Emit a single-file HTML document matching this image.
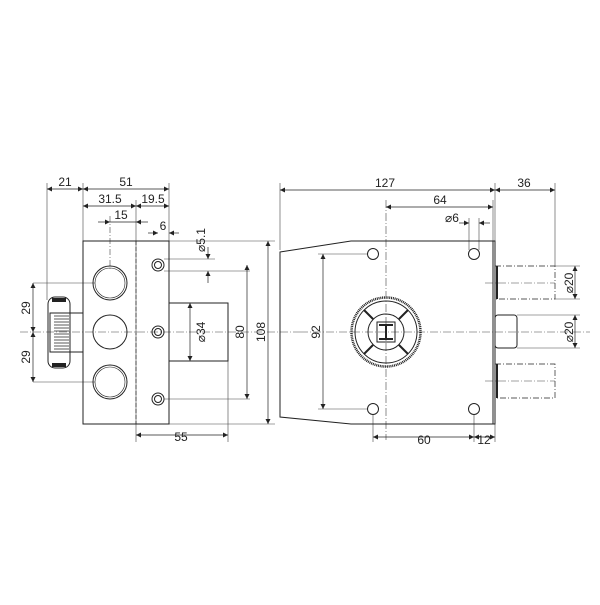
<!DOCTYPE html>
<html><head><style>body{margin:0;background:#fff}</style></head><body>
<svg width="600" height="600" viewBox="0 0 600 600" xmlns="http://www.w3.org/2000/svg" font-family="Liberation Sans, sans-serif" font-size="12" fill="none" stroke="#222">
<defs>
<marker id="a" viewBox="0 0 10 10" refX="10" refY="5" markerUnits="userSpaceOnUse" markerWidth="8" markerHeight="5" orient="auto-start-reverse"><path d="M0,0L10,5L0,10z" fill="#222" stroke="none"/></marker>
</defs>
<g stroke-width="0.6" stroke="#444">
<line x1="47" y1="183" x2="47" y2="300"/><line x1="83" y1="183" x2="83" y2="241"/><line x1="169" y1="183" x2="169" y2="241"/>
<line x1="136" y1="200" x2="136" y2="442"/><line x1="110" y1="216" x2="110" y2="270" stroke-dasharray="6 2 1 2"/>
<line x1="228" y1="361" x2="228" y2="442"/>
<line x1="33" y1="283" x2="95" y2="283"/><line x1="33" y1="382" x2="95" y2="382"/>
<line x1="164" y1="259" x2="215" y2="259"/><line x1="164" y1="271" x2="250" y2="271"/><line x1="164" y1="399" x2="250" y2="399"/>
<line x1="169" y1="241" x2="275" y2="241"/><line x1="169" y1="424" x2="275" y2="424"/>
<line x1="20" y1="332" x2="300" y2="332" stroke-dasharray="8 2 1 2"/>
<line x1="280" y1="183" x2="280" y2="250"/><line x1="495" y1="183" x2="495" y2="241"/><line x1="555" y1="183" x2="555" y2="266"/>
<line x1="386" y1="200" x2="386" y2="440" stroke-dasharray="8 2 1 2"/>
<line x1="493" y1="200" x2="493" y2="241"/>
<line x1="469" y1="218" x2="469" y2="250"/><line x1="479" y1="218" x2="479" y2="250"/>
<line x1="318" y1="254" x2="368" y2="254"/><line x1="318" y1="409" x2="368" y2="409"/>
<line x1="373" y1="414" x2="373" y2="442"/><line x1="474" y1="414" x2="474" y2="442"/><line x1="495" y1="424" x2="495" y2="442"/>
<line x1="555" y1="266" x2="580" y2="266"/><line x1="555" y1="299" x2="580" y2="299"/><line x1="517" y1="315" x2="580" y2="315"/><line x1="517" y1="348" x2="580" y2="348"/>
<line x1="300" y1="332" x2="590" y2="332" stroke-dasharray="8 2 1 2"/>
<line x1="485" y1="283" x2="555" y2="283" stroke-dasharray="8 2 1 2"/><line x1="485" y1="381" x2="555" y2="381" stroke-dasharray="8 2 1 2"/>
</g>
<g stroke-width="0.7" marker-start="url(#a)" marker-end="url(#a)">
<line x1="47" y1="189" x2="83" y2="189"/><line x1="83" y1="189" x2="169" y2="189"/>
<line x1="83" y1="206" x2="136" y2="206"/><line x1="136" y1="206" x2="169" y2="206"/>
<line x1="33" y1="283" x2="33" y2="332"/><line x1="33" y1="332" x2="33" y2="382"/>
<line x1="190" y1="303" x2="190" y2="361"/>
<line x1="247" y1="265" x2="247" y2="399"/><line x1="268" y1="241" x2="268" y2="424"/>
<line x1="136" y1="435" x2="228" y2="435"/>
<line x1="280" y1="190" x2="495" y2="190"/><line x1="495" y1="190" x2="555" y2="190"/>
<line x1="386" y1="207" x2="493" y2="207"/>
<line x1="323" y1="254" x2="323" y2="409"/>
<line x1="373" y1="437" x2="474" y2="437"/><line x1="474" y1="437" x2="495" y2="437"/>
<line x1="575" y1="266" x2="575" y2="299"/><line x1="575" y1="315" x2="575" y2="348"/>
</g>
<g stroke-width="0.7">
<line x1="98" y1="222" x2="110" y2="222" marker-end="url(#a)"/><line x1="148" y1="222" x2="136" y2="222" marker-end="url(#a)"/><line x1="110" y1="222" x2="136" y2="222"/>
<line x1="148" y1="233" x2="158" y2="233" marker-end="url(#a)"/><line x1="179" y1="233" x2="169" y2="233" marker-end="url(#a)"/>
<line x1="208" y1="247" x2="208" y2="259" marker-end="url(#a)"/><line x1="208" y1="283" x2="208" y2="271" marker-end="url(#a)"/>
<line x1="459" y1="223" x2="469" y2="223" marker-end="url(#a)"/><line x1="490" y1="223" x2="479" y2="223" marker-end="url(#a)"/>
</g>
<g stroke-width="1">
<rect x="83" y="241" width="86" height="183"/>
<line x1="136" y1="241" x2="136" y2="424" stroke-dasharray="4 2" stroke-width="0.7"/>
<circle cx="110" cy="283" r="17"/><circle cx="110" cy="332" r="17"/><circle cx="110" cy="382" r="17"/>
<circle cx="110" cy="283" r="15" stroke-width="0.6"/><circle cx="110" cy="382" r="15" stroke-width="0.6"/>
<circle cx="158" cy="265" r="6"/><circle cx="158" cy="265" r="3.5"/>
<circle cx="158" cy="332" r="6"/><circle cx="158" cy="332" r="3.5"/>
<circle cx="158" cy="399" r="6"/><circle cx="158" cy="399" r="3.5"/>
<rect x="169" y="303" width="59" height="58"/>
<rect x="70" y="313" width="13" height="39"/>
<rect x="48" y="297" width="22" height="71" rx="7"/>
<path d="M52,300 H66 M52,365 H66" stroke-width="4"/>
<rect x="50" y="313" width="20" height="39" stroke-width="1"/>
<path d="M54,316 H69 M54,319 H69 M54,322 H69 M54,325 H69 M54,328 H69 M54,331 H69 M54,334 H69 M54,337 H69 M54,340 H69 M54,343 H69 M54,346 H69 M54,349 H69" stroke-width="0.8"/>
</g>
<g stroke-width="1">
<path d="M280,252 L351,241 L493,241 L493,424 L351,424 L280,417 Z"/>
<rect x="493" y="241" width="2" height="183"/>
<circle cx="373" cy="254" r="5.5"/><circle cx="474" cy="254" r="5.5"/><circle cx="373" cy="409" r="5.5"/><circle cx="474" cy="409" r="5.5"/>
<rect x="495" y="315" width="22" height="33" rx="3"/>
<line x1="497" y1="266" x2="497" y2="299" stroke-width="2"/><line x1="497" y1="364" x2="497" y2="398" stroke-width="2"/>
<path d="M495,266 H555 V299 H495 M495,364 H555 V398 H495" stroke-dasharray="6 2 1 2" stroke-width="0.7"/>
<circle cx="386" cy="332" r="34.5" stroke-width="2.5" stroke-dasharray="1 0.8"/>
<circle cx="386" cy="332" r="31"/>
<circle cx="386" cy="332" r="18"/>
<path d="M364,310 L373,319 M408,310 L399,319 M364,354 L373,345 M408,354 L399,345" stroke-width="2"/>
<rect x="377" y="322" width="18" height="20"/>
<path d="M379,325 H393 M379,339 H393 M386,324 V340" stroke-width="2"/>
</g>
<g fill="#222" stroke="none" text-anchor="middle">
<text x="65" y="186">21</text><text x="126" y="186">51</text>
<text x="110" y="203">31.5</text><text x="153" y="203">19.5</text>
<text x="121" y="219">15</text><text x="163" y="230">6</text>
<text x="385" y="187">127</text><text x="524" y="187">36</text>
<text x="440" y="204">64</text><text x="452" y="222">⌀6</text>
<text x="181" y="441">55</text><text x="424" y="444">60</text><text x="484" y="444">12</text>
<text transform="translate(30,308) rotate(-90)">29</text>
<text transform="translate(30,357) rotate(-90)">29</text>
<text transform="translate(205,332) rotate(-90)">⌀34</text>
<text transform="translate(244,332) rotate(-90)">80</text>
<text transform="translate(265,332) rotate(-90)">108</text>
<text transform="translate(320,332) rotate(-90)">92</text>
<text transform="translate(205,240) rotate(-90)">⌀5.1</text>
<text transform="translate(573,283) rotate(-90)">⌀20</text>
<text transform="translate(573,332) rotate(-90)">⌀20</text>
</g>
</svg>
</body></html>
